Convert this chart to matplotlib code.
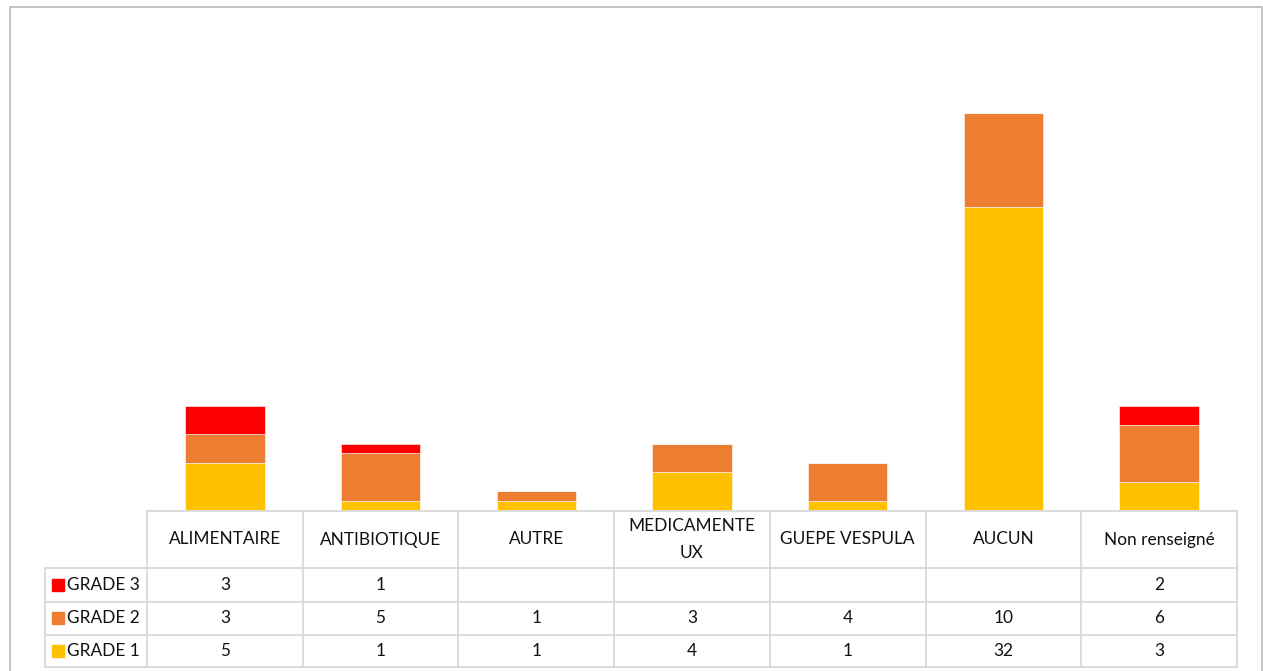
import matplotlib.pyplot as plt
import numpy as np

categories = ["ALIMENTAIRE", "ANTIBIOTIQUE", "AUTRE", "MEDICAMENTE\nUX",
              "GUEPE VESPULA", "AUCUN", "Non renseigné"]
grade1 = [5, 1, 1, 4, 1, 32, 3]
grade2 = [3, 5, 1, 3, 4, 10, 6]
grade3 = [3, 1, None, None, None, None, 2]

series = [("GRADE 3", grade3, "#FF0000"),
          ("GRADE 2", grade2, "#ED7D31"),
          ("GRADE 1", grade1, "#FFC000")]

plt.rcParams['font.family'] = ['Lato', 'DejaVu Sans']

W, H = 1263, 671
fig = plt.figure(figsize=(W / 100, H / 100), dpi=100)

def px_box(x0, y0, x1, y1):
    # pixel box (top-left origin) -> figure fraction rect
    return [x0 / W, (H - y1) / H, (x1 - x0) / W, (y1 - y0) / H]

# outer chart frame
frame = fig.add_axes([0, 0, 1, 1])
frame.set_xlim(0, W)
frame.set_ylim(H, 0)
frame.axis('off')
frame.plot([10, 10, 1262, 1262], [H + 5, 7, 7, H + 5], color='#b4b4b4', lw=1.1)

# bars
ax = fig.add_axes(px_box(147, 84.6, 1237, 510))
x = np.arange(len(categories))
g1 = np.array(grade1, dtype=float)
g2 = np.array(grade2, dtype=float)
g3 = np.array([v if v is not None else 0 for v in grade3], dtype=float)
ax.bar(x, g1, width=0.51, color="#FFC000", edgecolor='white', linewidth=0.4)
ax.bar(x, g2, width=0.51, bottom=g1, color="#ED7D31", edgecolor='white', linewidth=0.4)
ax.bar(x, g3, width=0.51, bottom=g1 + g2, color="#FF0000", edgecolor='white', linewidth=0.4)
ax.set_xlim(-0.5, len(categories) - 0.5)
ax.set_ylim(0, 45)
ax.axis('off')

# data table underneath
tab = fig.add_axes(px_box(45, 511, 1237, 667))
unit = (1237 - 147) / len(categories)
left = -0.5 - (147 - 45) / unit
tab.set_xlim(left, len(categories) - 0.5)
tab.set_ylim(0, 156)
tab.axis('off')
grid = '#d9d9d9'
row_edges = [0, 32, 65.3, 99]
for y in row_edges:
    tab.plot([left, len(categories) - 0.5], [y, y], color=grid, lw=1.3, clip_on=False)
tab.plot([-0.5, len(categories) - 0.5], [156, 156], color=grid, lw=1.3, clip_on=False)
tab.plot([left, left], [0, 99], color=grid, lw=1.3, clip_on=False)
for k in range(len(categories) + 1):
    tab.plot([k - 0.5, k - 0.5], [0, 156], color=grid, lw=1.3, clip_on=False)

fs = 12.4
for i, c in enumerate(categories):
    tab.text(i, 127.5, c, ha='center', va='center', fontsize=fs, color='#111111',
             linespacing=1.8)

row_y = [(65.3 + 99) / 2, (32 + 65.3) / 2, 16]
for (name, vals, col), yc in zip(series, row_y):
    tab.plot([left + 12.5 / unit], [yc], marker='s', markersize=8.2, color=col,
             linestyle='none', clip_on=False)
    tab.text(left + 22 / unit, yc, name, ha='left', va='center', fontsize=fs, color='#111111')
    for i, v in enumerate(vals):
        if v is not None:
            tab.text(i, yc, str(v), ha='center', va='center', fontsize=fs, color='#111111')

fig.savefig("out.png", dpi=100)
